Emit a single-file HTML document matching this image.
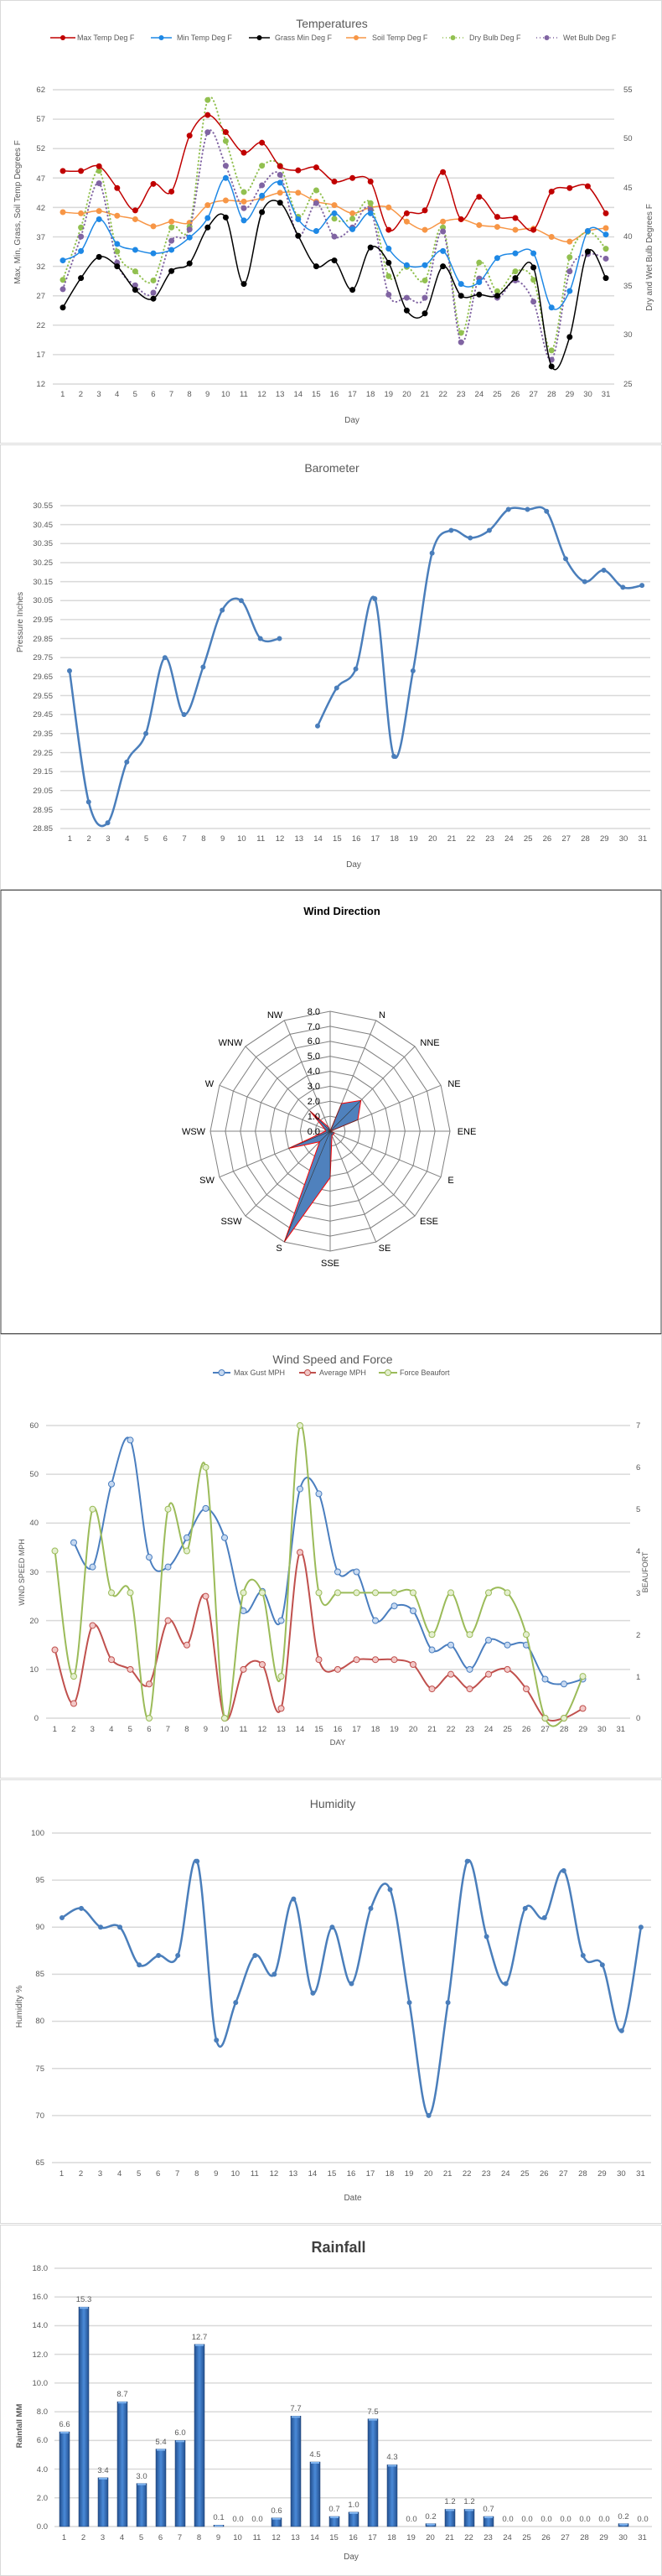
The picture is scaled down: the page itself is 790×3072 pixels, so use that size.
<!DOCTYPE html>
<html><head><meta charset="utf-8">
<style>
body{margin:0;background:#fff;}
#pg{position:relative;width:790px;height:3072px;overflow:hidden;font-family:"Liberation Sans",sans-serif;}
svg{position:absolute;left:0;top:0;}
.days{position:absolute;display:flex;font-size:9.5px;color:#595959;line-height:12px;}
.days span{flex:1;text-align:center;}
text{font-family:"Liberation Sans",sans-serif;}
.t{fill:#595959;font-size:9.5px;}
</style></head><body>
<div id="pg">
<svg id="sv" width="790" height="3072" viewBox="0 0 790 3072">
<g fill="#fff">
<rect x="0.5" y="0.5" width="789" height="528" stroke="#d9d9d9"/>
<rect x="0.5" y="530.5" width="789" height="530" stroke="#d9d9d9"/>
<rect x="1" y="1061.5" width="788" height="529" stroke="#404040"/>
<rect x="0.5" y="1591.5" width="789" height="529" stroke="#d9d9d9"/>
<rect x="0.5" y="2122.5" width="789" height="529" stroke="#d9d9d9"/>
<rect x="0.5" y="2653.5" width="789" height="418" stroke="#d9d9d9"/>
</g>
<g id="g"></g>
<!-- Chart 1 text -->
<text x="396" y="33" text-anchor="middle" font-size="14" fill="#595959">Temperatures</text>
<g font-size="9" fill="#595959">
<text x="92" y="48">Max Temp Deg F</text><text x="211" y="48">Min Temp Deg F</text><text x="328" y="48">Grass Min Deg F</text><text x="444" y="48">Soil Temp Deg F</text><text x="560" y="48">Dry Bulb Deg F</text><text x="672" y="48">Wet Bulb Deg F</text>
</g>
<g class="t" text-anchor="end">
<text x="54" y="110">62</text><text x="54" y="145">57</text><text x="54" y="180">52</text><text x="54" y="216">47</text><text x="54" y="251">42</text><text x="54" y="286">37</text><text x="54" y="321">32</text><text x="54" y="356">27</text><text x="54" y="391">22</text><text x="54" y="426">17</text><text x="54" y="461">12</text>
</g>
<g class="t">
<text x="744" y="110">55</text><text x="744" y="168">50</text><text x="744" y="227">45</text><text x="744" y="285">40</text><text x="744" y="344">35</text><text x="744" y="402">30</text><text x="744" y="461">25</text>
</g>
<text transform="translate(24,253) rotate(-90)" text-anchor="middle" font-size="10" fill="#595959">Max, Min, Grass, Soil Temp Degrees F</text>
<text transform="translate(778,307) rotate(-90)" text-anchor="middle" font-size="10" fill="#595959">Dry and Wet Bulb Degrees F</text>
<text x="420" y="504" text-anchor="middle" font-size="10" fill="#595959">Day</text>
<!-- Chart 2 -->
<text x="396" y="563" text-anchor="middle" font-size="14" fill="#595959">Barometer</text>
<g class="t" text-anchor="end">
<text x="63" y="606">30.55</text><text x="63" y="629">30.45</text><text x="63" y="651">30.35</text><text x="63" y="674">30.25</text><text x="63" y="697">30.15</text><text x="63" y="719">30.05</text><text x="63" y="742">29.95</text><text x="63" y="765">29.85</text><text x="63" y="787">29.75</text><text x="63" y="810">29.65</text><text x="63" y="833">29.55</text><text x="63" y="855">29.45</text><text x="63" y="878">29.35</text><text x="63" y="901">29.25</text><text x="63" y="923">29.15</text><text x="63" y="946">29.05</text><text x="63" y="969">28.95</text><text x="63" y="991">28.85</text>
</g>
<text transform="translate(27,742) rotate(-90)" text-anchor="middle" font-size="10" fill="#595959">Pressure Inches</text>
<text x="422" y="1034" text-anchor="middle" font-size="10" fill="#595959">Day</text>
<!-- Chart 3 -->
<text x="408" y="1091" text-anchor="middle" font-size="13" font-weight="bold" fill="#000">Wind Direction</text>
<g font-size="11" fill="#000" text-anchor="end">
<text x="382" y="1353">0.0</text><text x="382" y="1335">1.0</text><text x="382" y="1317">2.0</text><text x="382" y="1299">3.0</text><text x="382" y="1281">4.0</text><text x="382" y="1263">5.0</text><text x="382" y="1245">6.0</text><text x="382" y="1228">7.0</text><text x="382" y="1210">8.0</text>
</g>
<g font-size="11" fill="#000" text-anchor="middle">
<text x="456" y="1214">N</text><text x="513" y="1247">NNE</text><text x="542" y="1296">NE</text><text x="557" y="1353">ENE</text><text x="538" y="1411">E</text><text x="512" y="1460">ESE</text><text x="459" y="1492">SE</text><text x="394" y="1510">SSE</text><text x="333" y="1492">S</text><text x="276" y="1460">SSW</text><text x="247" y="1411">SW</text><text x="231" y="1353">WSW</text><text x="250" y="1296">W</text><text x="275" y="1247">WNW</text><text x="328" y="1214">NW</text>
</g>
<!-- Chart 4 -->
<text x="397" y="1626" text-anchor="middle" font-size="14" fill="#595959">Wind Speed and Force</text>
<g font-size="9" fill="#595959"><text x="279" y="1640">Max Gust MPH</text><text x="381" y="1640">Average MPH</text><text x="477" y="1640">Force Beaufort</text></g>
<g class="t" text-anchor="end">
<text x="46" y="1703">60</text><text x="46" y="1761">50</text><text x="46" y="1819">40</text><text x="46" y="1878">30</text><text x="46" y="1936">20</text><text x="46" y="1994">10</text><text x="46" y="2052">0</text>
</g>
<g class="t">
<text x="759" y="1703">7</text><text x="759" y="1753">6</text><text x="759" y="1803">5</text><text x="759" y="1853">4</text><text x="759" y="1903">3</text><text x="759" y="1953">2</text><text x="759" y="2003">1</text><text x="759" y="2052">0</text>
</g>
<text transform="translate(29,1875) rotate(-90)" text-anchor="middle" font-size="9" fill="#595959">WIND SPEED MPH</text>
<text transform="translate(773,1875) rotate(-90)" text-anchor="middle" font-size="9" fill="#595959">BEAUFORT</text>
<text x="403" y="2081" text-anchor="middle" font-size="9.5" fill="#595959">DAY</text>
<!-- Chart 5 -->
<text x="397" y="2156" text-anchor="middle" font-size="14" fill="#595959">Humidity</text>
<g class="t" text-anchor="end">
<text x="53" y="2189">100</text><text x="53" y="2245">95</text><text x="53" y="2301">90</text><text x="53" y="2357">85</text><text x="53" y="2413">80</text><text x="53" y="2470">75</text><text x="53" y="2526">70</text><text x="53" y="2582">65</text>
</g>
<text transform="translate(26,2393) rotate(-90)" text-anchor="middle" font-size="10" fill="#595959">Humidity %</text>
<text x="421" y="2624" text-anchor="middle" font-size="10" fill="#595959">Date</text>
<!-- Chart 6 -->
<text x="404" y="2686" text-anchor="middle" font-size="18" font-weight="bold" fill="#404040">Rainfall</text>
<g class="t" text-anchor="end">
<text x="57" y="2708">18.0</text><text x="57" y="2742">16.0</text><text x="57" y="2776">14.0</text><text x="57" y="2811">12.0</text><text x="57" y="2845">10.0</text><text x="57" y="2879">8.0</text><text x="57" y="2913">6.0</text><text x="57" y="2948">4.0</text><text x="57" y="2982">2.0</text><text x="57" y="3016">0.0</text>
</g>
<text transform="translate(26,2893) rotate(-90)" text-anchor="middle" font-size="9.5" font-weight="bold" fill="#595959">Rainfall MM</text>
<text x="419" y="3052" text-anchor="middle" font-size="10" fill="#595959">Day</text>
<g class="t" text-anchor="middle">
<text x="77" y="2894">6.6</text><text x="100" y="2745">15.3</text><text x="123" y="2949">3.4</text><text x="146" y="2858">8.7</text><text x="169" y="2956">3.0</text><text x="192" y="2915">5.4</text><text x="215" y="2904">6.0</text><text x="238" y="2790">12.7</text><text x="261" y="3005">0.1</text><text x="284" y="3007">0.0</text><text x="307" y="3007">0.0</text><text x="330" y="2997">0.6</text><text x="353" y="2875">7.7</text><text x="376" y="2930">4.5</text><text x="399" y="2995">0.7</text><text x="422" y="2990">1.0</text><text x="445" y="2879">7.5</text><text x="468" y="2933">4.3</text><text x="491" y="3007">0.0</text><text x="514" y="3004">0.2</text><text x="537" y="2986">1.2</text><text x="560" y="2986">1.2</text><text x="583" y="2995">0.7</text><text x="606" y="3007">0.0</text><text x="629" y="3007">0.0</text><text x="652" y="3007">0.0</text><text x="675" y="3007">0.0</text><text x="698" y="3007">0.0</text><text x="721" y="3007">0.0</text><text x="744" y="3004">0.2</text><text x="767" y="3007">0.0</text>
</g>
</svg>
<div class="days" style="left:64px;top:465px;width:670px"><span>1</span><span>2</span><span>3</span><span>4</span><span>5</span><span>6</span><span>7</span><span>8</span><span>9</span><span>10</span><span>11</span><span>12</span><span>13</span><span>14</span><span>15</span><span>16</span><span>17</span><span>18</span><span>19</span><span>20</span><span>21</span><span>22</span><span>23</span><span>24</span><span>25</span><span>26</span><span>27</span><span>28</span><span>29</span><span>30</span><span>31</span></div>
<div class="days" style="left:72px;top:995px;width:706px"><span>1</span><span>2</span><span>3</span><span>4</span><span>5</span><span>6</span><span>7</span><span>8</span><span>9</span><span>10</span><span>11</span><span>12</span><span>13</span><span>14</span><span>15</span><span>16</span><span>17</span><span>18</span><span>19</span><span>20</span><span>21</span><span>22</span><span>23</span><span>24</span><span>25</span><span>26</span><span>27</span><span>28</span><span>29</span><span>30</span><span>31</span></div>
<div class="days" style="left:54px;top:2057px;width:698px"><span>1</span><span>2</span><span>3</span><span>4</span><span>5</span><span>6</span><span>7</span><span>8</span><span>9</span><span>10</span><span>11</span><span>12</span><span>13</span><span>14</span><span>15</span><span>16</span><span>17</span><span>18</span><span>19</span><span>20</span><span>21</span><span>22</span><span>23</span><span>24</span><span>25</span><span>26</span><span>27</span><span>28</span><span>29</span><span>30</span><span>31</span></div>
<div class="days" style="left:62px;top:2587px;width:714px"><span>1</span><span>2</span><span>3</span><span>4</span><span>5</span><span>6</span><span>7</span><span>8</span><span>9</span><span>10</span><span>11</span><span>12</span><span>13</span><span>14</span><span>15</span><span>16</span><span>17</span><span>18</span><span>19</span><span>20</span><span>21</span><span>22</span><span>23</span><span>24</span><span>25</span><span>26</span><span>27</span><span>28</span><span>29</span><span>30</span><span>31</span></div>
<div class="days" style="left:65px;top:3021px;width:713px"><span>1</span><span>2</span><span>3</span><span>4</span><span>5</span><span>6</span><span>7</span><span>8</span><span>9</span><span>10</span><span>11</span><span>12</span><span>13</span><span>14</span><span>15</span><span>16</span><span>17</span><span>18</span><span>19</span><span>20</span><span>21</span><span>22</span><span>23</span><span>24</span><span>25</span><span>26</span><span>27</span><span>28</span><span>29</span><span>30</span><span>31</span></div>
</div>
<script>
var NS="http://www.w3.org/2000/svg",G=document.getElementById('g');
function el(n,a){var e=document.createElementNS(NS,n);for(var k in a)e.setAttribute(k,a[k]);G.appendChild(e);return e;}
function grid(x1,x2,ys){ys.forEach(function(y){el('line',{x1:x1,x2:x2,y1:y,y2:y,stroke:'#d9d9d9','stroke-width':1.5});});}
function range(a,n,s){var r=[];for(var i=0;i<n;i++)r.push(a+i*s);return r;}
function smooth(pts){var d='';var segs=[],cur=[];pts.forEach(function(p){if(p)cur.push(p);else{if(cur.length)segs.push(cur);cur=[];}});if(cur.length)segs.push(cur);
segs.forEach(function(s){d+='M'+s[0][0]+' '+s[0][1];for(var i=0;i<s.length-1;i++){var p0=s[i-1]||s[i],p1=s[i],p2=s[i+1],p3=s[i+2]||p2;
var c1x=p1[0]+(p2[0]-p0[0])/6,c1y=p1[1]+(p2[1]-p0[1])/6,c2x=p2[0]-(p3[0]-p1[0])/6,c2y=p2[1]-(p3[1]-p1[1])/6;
d+='C'+c1x.toFixed(1)+' '+c1y.toFixed(1)+' '+c2x.toFixed(1)+' '+c2y.toFixed(1)+' '+p2[0].toFixed(1)+' '+p2[1].toFixed(1);}});return d;}
function series(vals,x0,st,fy,col,w,dash,mr,mfill,mstroke){var pts=vals.map(function(v,i){return v==null?null:[x0+i*st,fy(v)];});
var a={d:smooth(pts),fill:'none',stroke:col,'stroke-width':w,'stroke-linecap':'round'};if(dash)a['stroke-dasharray']=dash;el('path',a);
if(mr)pts.forEach(function(p){if(p)el('circle',{cx:p[0],cy:p[1],r:mr,fill:mfill||col,stroke:mstroke||col,'stroke-width':1});});}
// Chart1
grid(63,733,range(107,11,35.1));
var L=function(v){return 107+(62-v)*7.02;},Z=function(z){return z/2.96;};
var mx=[48.2,48.2,49,45.3,41.5,46,44.7,54.2,57.7,54.8,51.3,53,49,48.3,48.8,46.4,47,46.4,38.2,41,41.5,48,40,43.8,40.4,40.2,38.2,44.7,45.3,45.6,41];
var mn=[33,34.6,40,35.8,34.8,34.2,34.8,36.9,40.2,47,39.8,44,46.2,40,38,41,38.3,41,35,32.2,32.2,34.6,29,29.3,33.4,34.2,34.2,25,27.8,38,37.4];
var gr=[25,30,33.6,32,28,26.5,31.2,32.5,38.6,40.3,29,41.2,42.8,37.2,32,33,28,35.2,32.6,24.5,24,32,27,27.2,27,30,31.8,15,20,34.5,30];
var so=[41.2,41,41.4,40.6,40,38.8,39.6,39.4,42.4,43.2,43,43.6,44.5,44.5,43,42.4,41,42,42,39.6,38.2,39.6,40,39,38.7,38.2,38.4,37,36.2,38,38.5];
var dr=[988,803,603,888,958,990,803,800,353,498,678,585,585,765,672,772,772,717,975,942,990,803,1175,927,1028,958,988,1237,908,818,878];
var wt=[1021,835,647,927,1007,1033,850,810,467,585,735,654,617,833,717,835,803,740,1040,1051,1051,817,1208,983,1051,990,1065,1270,958,897,913];
series(so,75,21.6,L,'#f79646',1.5,null,3);
series(dr,75,21.6,Z,'#92c050',2,'0.5 4',3);
series(wt,75,21.6,Z,'#8064a2',2,'0.5 4',3);
series(gr,75,21.6,L,'#000',1.5,null,3);
series(mn,75,21.6,L,'#1e88e5',1.5,null,3);
series(mx,75,21.6,L,'#c00000',1.5,null,3);
[[60,90,'#c00000',0],[180,205,'#1e88e5',0],[297,322,'#000',0],[413,437,'#f79646',0],[528,553,'#92c050',1],[640,665,'#8064a2',1]].forEach(function(l){var a={x1:l[0],x2:l[1],y1:45,y2:45,stroke:l[2],'stroke-width':1.5};if(l[3])a['stroke-dasharray']='1 3';el('line',a);el('circle',{cx:(l[0]+l[1])/2,cy:45,r:3,fill:l[2]});});
// Chart2
grid(72,776,range(603,18,22.65));
var br=[29.68,28.99,28.88,29.20,29.35,29.75,29.45,29.70,30.00,30.05,29.85,29.85,null,29.39,29.59,29.69,30.06,29.23,29.68,30.30,30.42,30.38,30.42,30.53,30.53,30.52,30.27,30.15,30.21,30.12,30.13];
series(br,83,22.77,function(v){return 603+(30.55-v)*226.5;},'#4a7ebb',2.5,null,2.5);
// Chart3 radar
var cx=394,cy=1349,R=143;function P(i,r){var a=i*Math.PI/8;return [cx+r*Math.sin(a),cy-r*Math.cos(a)];}
for(var k=1;k<=8;k++){var d='';for(var i=0;i<16;i++){var p=P(i,k*R/8);d+=(i?'L':'M')+p[0].toFixed(1)+' '+p[1].toFixed(1);}el('path',{d:d+'Z',fill:'none',stroke:'#808080','stroke-width':1});}
for(var i=0;i<16;i++){var p=P(i,R);el('line',{x1:cx,y1:cy,x2:p[0],y2:p[1],stroke:'#808080','stroke-width':1});}
var wd=[0,2.0,2.9,2.0,0,0.3,0.3,0.3,3.1,8.0,1.0,3.0,0.3,0.4,1.9,0.3];var d='';wd.forEach(function(v,i){var p=P(i,v*R/8);d+=(i?'L':'M')+p[0].toFixed(1)+' '+p[1].toFixed(1);});
el('path',{d:d+'Z',fill:'#4f81bd',stroke:'#ff0000','stroke-width':1});
wd.forEach(function(v,i){var p=P(i,v*R/8);el('line',{x1:cx,y1:cy,x2:p[0],y2:p[1],stroke:'#333','stroke-width':0.6});});
// Chart4
grid(55,752,range(1700,7,58.17));
var W=function(v){return 2049-v*5.817;},B=function(v){return 2049-v*49.86;};
var mg=[null,36,31,48,57,33,31,37,43,37,22,26,20,47,46,30,30,20,23,22,14,15,10,16,15,15,8,7,8,null,null];
var av=[14,3,19,12,10,7,20,15,25,0,10,11,2,34,12,10,12,12,12,11,6,9,6,9,10,6,0,0,2,null,null];
var bf=[4,1,5,3,3,0,5,4,6,0,3,3,1,7,3,3,3,3,3,3,2,3,2,3,3,2,0,0,1,null,null];
series(mg,65.5,22.5,W,'#4a7ebf',2,null,3.5,'#c6d9f1');
series(av,65.5,22.5,W,'#c0504d',2,null,3.5,'#f2c8c7');
series(bf,65.5,22.5,B,'#9bbb59',2,null,3.5,'#e4efcf');
[[254,275,'#4a7ebf','#c6d9f1'],[357,377,'#c0504d','#f2c8c7'],[452,474,'#9bbb59','#e4efcf']].forEach(function(l){el('line',{x1:l[0],x2:l[1],y1:1637,y2:1637,stroke:l[2],'stroke-width':2});el('circle',{cx:(l[0]+l[1])/2,cy:1637,r:3.5,fill:l[3],stroke:l[2]});});
// Chart5
grid(62,777,range(2186,8,56.14));
var hu=[91,92,90,90,86,87,87,97,78,82,87,85,93,83,90,84,92,94,82,70,82,97,89,84,92,91,96,87,86,79,90];
series(hu,74,23.03,function(v){return 2186+(100-v)*11.228;},'#4a7ebb',2.5,null,2.5);
// Chart6
grid(65,778,range(2705,10,34.22));
var defs=el('defs',{});var lg=document.createElementNS(NS,'linearGradient');lg.setAttribute('id','bg');lg.setAttribute('x1','0');lg.setAttribute('x2','1');
[['0','#23508f'],['0.5','#4a8ad8'],['1','#23508f']].forEach(function(s){var st=document.createElementNS(NS,'stop');st.setAttribute('offset',s[0]);st.setAttribute('stop-color',s[1]);lg.appendChild(st);});defs.appendChild(lg);
var rf=[6.6,15.3,3.4,8.7,3.0,5.4,6.0,12.7,0.1,0,0,0.6,7.7,4.5,0.7,1.0,7.5,4.3,0,0.2,1.2,1.2,0.7,0,0,0,0,0,0,0.2,0];
rf.forEach(function(v,i){if(v<=0)return;var h=v*17.11;el('rect',{x:77+i*23-6,y:3013-h,width:12,height:h,fill:'url(#bg)',stroke:'#1f3f70','stroke-width':0.5});el('rect',{x:77+i*23-5,y:3013-h,width:10,height:Math.min(2,h),fill:'#7fb4f0'});});
</script>
</body></html>
